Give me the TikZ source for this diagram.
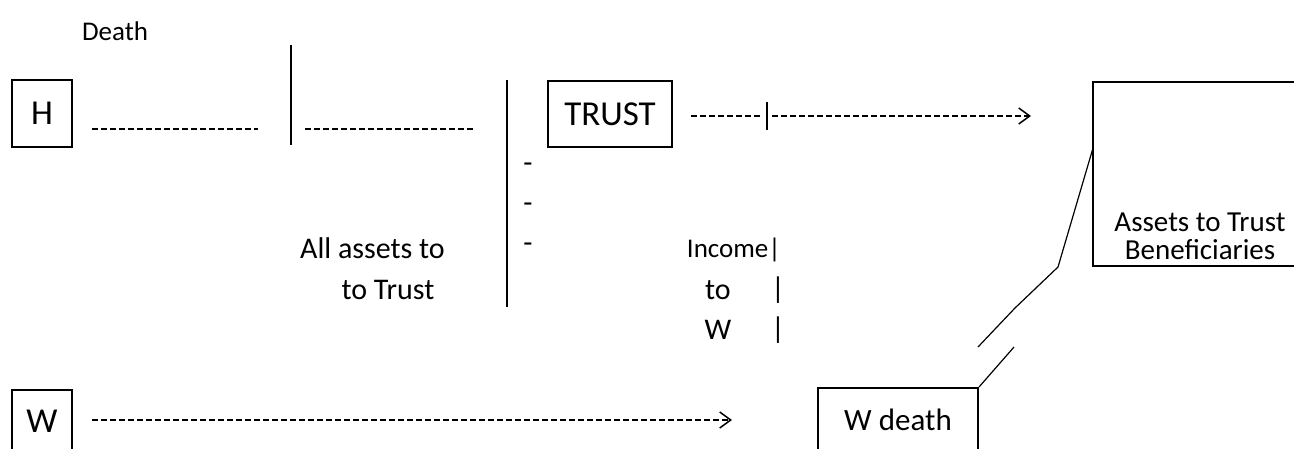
\documentclass[tikz,border=0pt]{standalone}
\usepackage{fontspec}
\setmainfont{Carlito}
\usetikzlibrary{arrows.meta}

\begin{document}
\begin{tikzpicture}[x=1pt,y=-1pt,
	box_node/.style={draw,line width=2pt,inner sep=0pt,font=\fontsize{35}{40}\selectfont},
	big_text/.style={inner sep=0pt,font=\fontsize{30}{36}\selectfont},
	small_text/.style={inner sep=0pt,font=\fontsize{27}{31}\selectfont},
	dash_line/.style={line width=1.4pt,dash pattern=on 5.5pt off 3.5pt},
	head/.style={-{Straight Barb[length=11pt,width=16pt,line width=1.5pt]}},
	thin_line/.style={line width=1.2pt}]

		\useasboundingbox (0,0) rectangle (1294,448);
		\clip (0,0) rectangle (1294,448);

		\node[box_node,minimum width=60pt,minimum height=67pt] (1) at (42,113.5) {H};
		\node[box_node,minimum width=124pt,minimum height=66pt] (2) at (610,114) {TRUST};
		\node[minimum width=201pt,minimum height=184pt,inner sep=0pt] (3) at (1193.5,174) {};
		\node[box_node,minimum width=60pt,minimum height=62pt] (4) at (42,421) {W};
		\node[box_node,minimum width=160pt,minimum height=64pt,font=\fontsize{31}{36}\selectfont] (5) at (898,420) {W death};

		\node[small_text] (6) at (115,31) {Death};
		\node[big_text,anchor=east] (7) at (445,248) {All assets to};
		\node[big_text] (8) at (388,290) {to Trust};
		\node[small_text,anchor=east] (9) at (781,250) {Income|};
		\node[big_text] (10) at (718,290) {to};
		\node[big_text] (11) at (778,290) {|};
		\node[big_text] (12) at (718,330) {W};
		\node[big_text] (13) at (778,330) {|};
		\node[align=center,inner sep=0pt,font=\fontsize{29}{28}\selectfont] (14) at (1200,236) {Assets to Trust\\Beneficiaries};
		\foreach \y/\n in {168/15,208/16,248/17}
			\node[big_text] (\n) at (528,\y) {-};

		% free ends
		\coordinate (a1) at (92,129);
		\coordinate (a2) at (258,129);
		\coordinate (b1) at (305,129);
		\coordinate (b2) at (475,129);
		\coordinate (c1) at (691,116);
		\coordinate (c2) at (762,116);
		\coordinate (c3) at (772,116);
		\coordinate (c4) at (1031,116);
		\coordinate (e1) at (92,420);
		\coordinate (e2) at (732,420);
		\coordinate (f0) at (1093,148);
		\coordinate (f1) at (1058,267);
		\coordinate (f2) at (1015,308);
		\coordinate (f3) at (978,347);
		\coordinate (g1) at (1014,347);

		\draw[line width=1.5pt] (291,45) -- (291,145);
		\draw[line width=1.5pt] (507,80) -- (507,307);
		\draw[line width=2pt] (3.north east) -- (3.north west) -- (3.south west) -- (3.south east);

		\draw[dash_line] (a1) -- (a2);
		\draw[dash_line] (b1) -- (b2);
		\draw[dash_line] (c1) -- (c2);
		\draw[line width=1.5pt] (767,102) -- (767,130);
		\draw[dash_line,head] (c3) -- (c4);
		\draw[dash_line,head] (e1) -- (e2);

		\draw[thin_line] (f0) -- (f1) -- (f2) -- (f3);
		\draw[thin_line] (g1) -- (5.north east);
		\end{tikzpicture}
\end{document}
